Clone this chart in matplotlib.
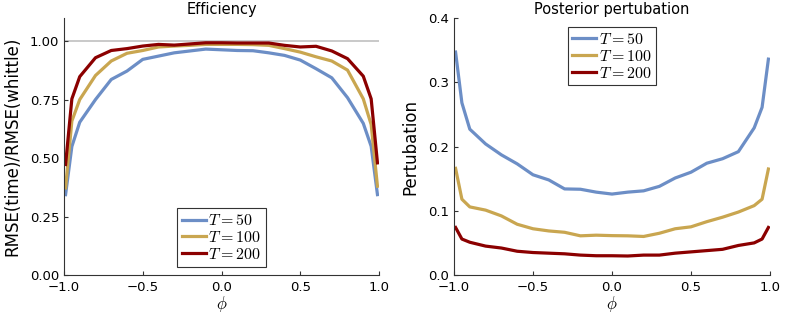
import numpy as np
import matplotlib
matplotlib.use("Agg")
import matplotlib.pyplot as plt

plt.rcParams['mathtext.fontset'] = 'cm'
plt.rcParams['font.family'] = ['DejaVu Sans']

# phi grid
phi = [-0.99, -0.95, -0.9, -0.8, -0.7, -0.6, -0.5, -0.4, -0.3, -0.2, -0.1, 0.0,
       0.1, 0.2, 0.3, 0.4, 0.5, 0.6, 0.7, 0.8, 0.9, 0.95, 0.99]

# efficiency: RMSE(time)/RMSE(whittle)
eff_50 = [0.344, 0.55, 0.654, 0.751, 0.837, 0.873, 0.923, 0.937, 0.951, 0.959, 0.967, 0.964,
          0.961, 0.960, 0.951, 0.940, 0.920, 0.883, 0.844, 0.759, 0.649, 0.551, 0.344]
eff_100 = [0.373, 0.659, 0.751, 0.854, 0.916, 0.949, 0.961, 0.976, 0.980, 0.983, 0.987, 0.987,
           0.987, 0.986, 0.983, 0.969, 0.954, 0.934, 0.916, 0.877, 0.754, 0.644, 0.380]
eff_200 = [0.473, 0.754, 0.849, 0.930, 0.961, 0.969, 0.980, 0.987, 0.984, 0.989, 0.994, 0.994,
           0.993, 0.993, 0.993, 0.983, 0.976, 0.979, 0.959, 0.926, 0.851, 0.754, 0.480]

# posterior pertubation
pert_50 = [0.347, 0.268, 0.227, 0.204, 0.187, 0.173, 0.156, 0.148, 0.134, 0.1335, 0.129, 0.126,
           0.129, 0.131, 0.138, 0.151, 0.160, 0.174, 0.181, 0.192, 0.229, 0.261, 0.336]
pert_100 = [0.166, 0.118, 0.106, 0.101, 0.092, 0.079, 0.072, 0.0686, 0.0665, 0.061, 0.062, 0.0613,
            0.061, 0.060, 0.065, 0.072, 0.075, 0.083, 0.090, 0.098, 0.108, 0.118, 0.165]
pert_200 = [0.074, 0.056, 0.051, 0.045, 0.042, 0.037, 0.035, 0.034, 0.033, 0.031, 0.030, 0.030,
            0.0296, 0.031, 0.031, 0.034, 0.036, 0.038, 0.040, 0.046, 0.050, 0.056, 0.074]

labels = [r'$T = 50$', r'$T = 100$', r'$T = 200$']
colors = ['#6c8ec6', '#c9a650', '#8b0000']

fig = plt.figure(figsize=(7.89, 3.16), dpi=100)
ax1 = fig.add_axes([0.0811, 0.1297, 0.3993, 0.8133])
ax2 = fig.add_axes([0.5754, 0.1297, 0.4005, 0.8133])


def style_axis(ax):
    for s in ['top', 'right']:
        ax.spines[s].set_visible(False)
    for s in ['left', 'bottom']:
        ax.spines[s].set_linewidth(0.8)
        ax.spines[s].set_color('#333333')
    ax.tick_params(direction='in', length=3, width=0.8, labelsize=9.5, color='#333333')
    ax.tick_params(axis='x', pad=4.5)
    ax.set_xlim(-1, 1)
    ax.set_xticks([-1.0, -0.5, 0.0, 0.5, 1.0])
    ax.set_xlabel(r'$\phi$', fontsize=12, labelpad=0)


def add_legend(ax, loc, anchor):
    leg = ax.legend(loc=loc, bbox_to_anchor=anchor, fontsize=11.5,
                    handlelength=1.5, handletextpad=0.15, borderpad=0.3,
                    labelspacing=0.12, borderaxespad=0,
                    fancybox=False, framealpha=1)
    leg.get_frame().set_edgecolor('#333333')
    leg.get_frame().set_linewidth(0.8)
    return leg


# efficiency panel
ax1.plot([-1, 1], [1, 1], color='#c0c0c0', lw=1.2, zorder=1)
for y, lab, c in zip([eff_50, eff_100, eff_200], labels, colors):
    ax1.plot(phi, y, color=c, lw=2.3, label=lab)
style_axis(ax1)
ax1.set_ylim(0, 1.1)
ax1.set_yticks([0.0, 0.25, 0.5, 0.75, 1.0])
ax1.set_yticklabels(['0.00', '0.25', '0.50', '0.75', '1.00'])
ax1.set_title('Efficiency', fontsize=10.5, pad=3)
ax1.set_ylabel('RMSE(time)/RMSE(whittle)', fontsize=12, labelpad=6)
add_legend(ax1, 'lower center', (0.5, 0.032))

# pertubation panel
for y, lab, c in zip([pert_50, pert_100, pert_200], labels, colors):
    ax2.plot(phi, y, color=c, lw=2.3, label=lab)
style_axis(ax2)
ax2.set_ylim(0, 0.4)
ax2.set_yticks([0.0, 0.1, 0.2, 0.3, 0.4])
ax2.set_title('Posterior pertubation', fontsize=10.5, pad=3)
ax2.set_ylabel('Pertubation', fontsize=12, labelpad=6)
add_legend(ax2, 'upper center', (0.5, 0.965))

fig.savefig('out.png', dpi=100)
